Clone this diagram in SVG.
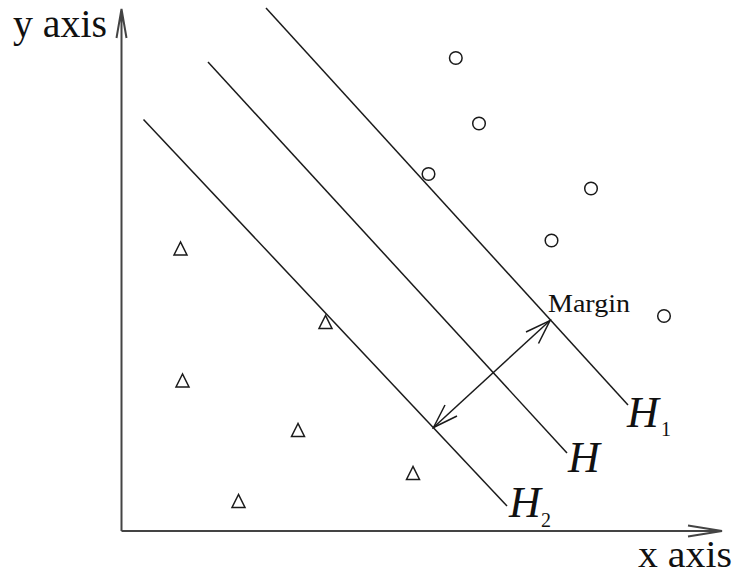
<svg xmlns="http://www.w3.org/2000/svg" width="737" height="576" viewBox="0 0 737 576">
<style>
.ax{stroke:#444;stroke-width:2;fill:none}
.ln{stroke:#1a1a1a;stroke-width:1.5;fill:none}
.pt{stroke:#1a1a1a;stroke-width:1.5;fill:none}
.lab{font-family:"Liberation Serif","Times New Roman","DejaVu Serif",serif;fill:#111}
.it{font-family:"Liberation Serif","Times New Roman","DejaVu Serif",serif;font-style:italic;fill:#111}
</style>
<rect width="737" height="576" fill="#fff"/>
<g id="axes">
<path class="ax" d="M121.5,531 V9 M116.5,38 L121.5,9 L126.5,38"/>
<path class="ax" d="M121.5,531 H722 M688,525.5 L722,531 L688,536.5"/>
<text class="lab" x="13" y="37" font-size="39" textLength="94" lengthAdjust="spacingAndGlyphs">y axis</text>
<text class="lab" x="638" y="567" font-size="37" textLength="94" lengthAdjust="spacingAndGlyphs">x axis</text>
</g>
<g id="connectors">
<line id="H1line" class="ln" x1="266" y1="8" x2="628" y2="405"/>
<line id="Hline" class="ln" x1="208" y1="62" x2="567" y2="453"/>
<line id="H2line" class="ln" x1="143.5" y1="119.5" x2="507" y2="506"/>
<g id="margin-arrow">
<path class="ln" d="M433.5,427.5 L550,320.5"/>
<path class="ln" d="M526,332 L550,320.5 L538.5,343.5"/>
<path class="ln" d="M445,405 L433.5,427.5 L457,416"/>
</g>
</g>
<g id="labels">
<text class="lab" x="548" y="312" font-size="26" textLength="82" lengthAdjust="spacingAndGlyphs">Margin</text>
<text class="it" x="627" y="427" font-size="44">H</text>
<text class="lab" x="661" y="436" font-size="20">1</text>
<text class="it" x="568" y="472" font-size="44">H</text>
<text class="it" x="509" y="517" font-size="44">H</text>
<text class="lab" x="541" y="527" font-size="20">2</text>
</g>
<g id="circles">
<circle class="pt" cx="455.8" cy="58" r="6.3"/>
<circle class="pt" cx="479" cy="123.5" r="6.3"/>
<circle class="pt" cx="428.5" cy="174" r="6.3"/>
<circle class="pt" cx="591" cy="188.5" r="6.3"/>
<circle class="pt" cx="551.5" cy="240.5" r="6.3"/>
<circle class="pt" cx="664" cy="316" r="6.3"/>
</g>
<g id="triangles">
<path class="pt" d="M180.5,242 L174,255 L187,255 Z"/>
<path class="pt" d="M325.5,315.5 L319,328.5 L332,328.5 Z"/>
<path class="pt" d="M182.5,374 L176,387 L189,387 Z"/>
<path class="pt" d="M298,423.5 L291.5,436.5 L304.5,436.5 Z"/>
<path class="pt" d="M413,466.5 L406.5,479.5 L419.5,479.5 Z"/>
<path class="pt" d="M238.5,494.5 L232,507.5 L245,507.5 Z"/>
</g>
</svg>
